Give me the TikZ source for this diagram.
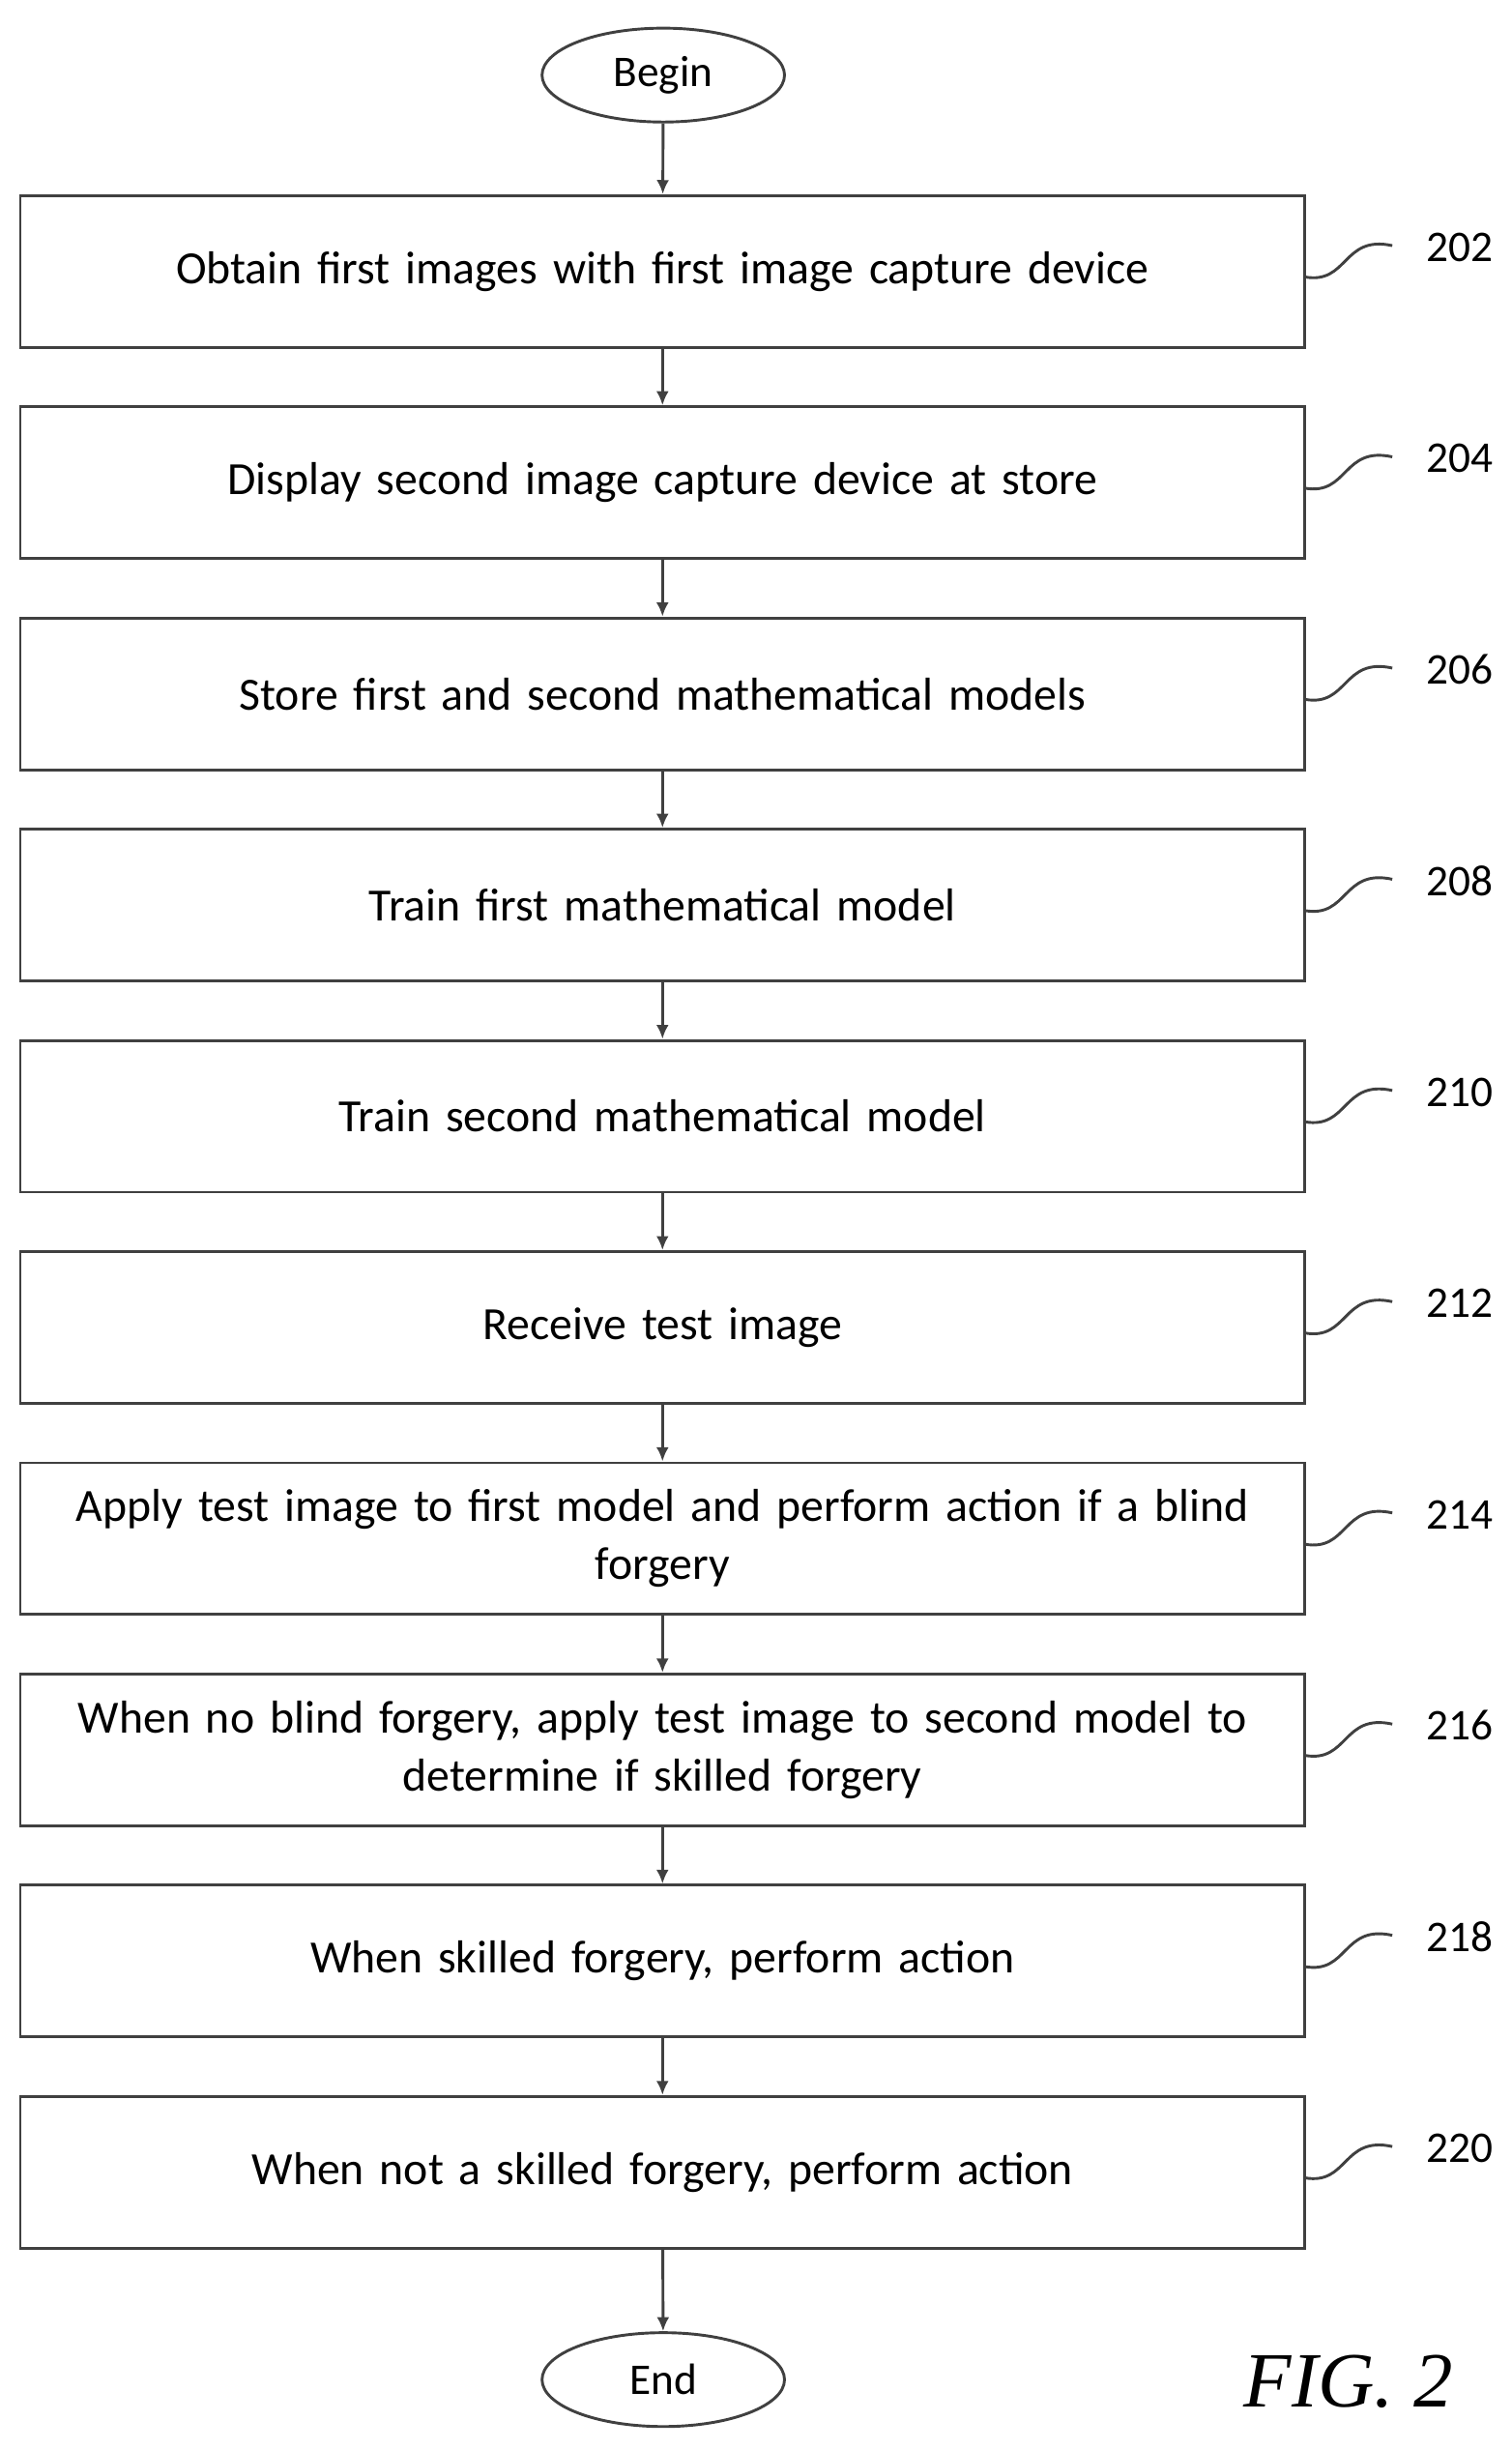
\documentclass[tikz,border=0pt]{standalone}
\usepackage{fontspec}
\setmainfont{Carlito}
\usetikzlibrary{shapes.geometric,arrows.meta}
\begin{document}
\begin{tikzpicture}[x=1pt,y=-1pt,
  box/.style={draw=black!75,line width=1.8pt,minimum width=821pt,minimum height=97pt,align=center,text width=800pt,inner sep=0pt,font=\fontsize{29.5}{37}\selectfont},
  term/.style={ellipse,draw=black!75,line width=1.8pt,minimum width=155pt,minimum height=60pt,inner sep=0pt,font=\fontsize{28}{30}\selectfont},
  arr/.style={draw=black!75,line width=1.8pt,-{Latex[length=9pt,width=8pt]}},
  lab/.style={font=\fontsize{28}{30}\selectfont},
  sq/.style={draw=black!75,line width=1.8pt}]
\useasboundingbox (0,0) rectangle (966,1566);
\node[term] (b) at (424,48) {Begin};
\node[term] (e) at (424,1521) {End};
\foreach \i/\t/\n in {0/{Obtain first images with first image capture device}/202,
1/{Display second image capture device at store}/204,
2/{Store first and second mathematical models}/206,
3/{Train first mathematical model}/208,
4/{Train second mathematical model}/210,
5/{Receive test image}/212,
6/{Apply test image to first model and perform action if a blind\\forgery}/214,
7/{When no blind forgery, apply test image to second model to\\determine if skilled forgery}/216,
8/{When skilled forgery, perform action}/218,
9/{When not a skilled forgery, perform action}/220}{
  \node[box] (n\i) at (423.5,{173.5+135*\i}) {\t};
  \coordinate (s\i) at (834,{177+135*\i});
  \coordinate (t\i) at (890,{157+135*\i});
  \draw[sq] (s\i) .. controls (862,{182+135*\i}) and (858,{150+135*\i}) .. (t\i);
  \node[lab] (l\i) at (933,{158+135*\i}) {\n};
}
\draw[arr] (b) -- (n0);
\foreach \i [evaluate=\i as \j using int(\i+1)] in {0,...,8}{\draw[arr] (n\i) -- (n\j);}
\draw[arr] (n9) -- (e);
\node[font=\fontsize{50}{55}\selectfont\itshape\fontspec{Liberation Serif}] (fig) at (862,1522) {FIG. 2};
\end{tikzpicture}
\end{document}
